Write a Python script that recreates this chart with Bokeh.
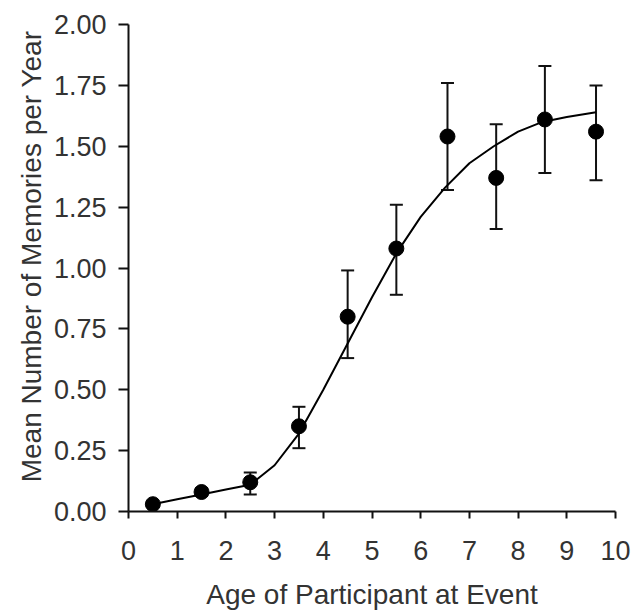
from bokeh.plotting import figure
from bokeh.models import ColumnDataSource, Whisker, TeeHead, FixedTicker, Range1d, CustomJSTickFormatter, Title
from bokeh.embed import file_html
from bokeh.resources import INLINE

# Data
ages = [0.5, 1.5, 2.5, 3.5, 4.5, 5.5, 6.55, 7.55, 8.55, 9.6]
means = [0.03, 0.08, 0.12, 0.35, 0.80, 1.08, 1.54, 1.37, 1.61, 1.56]
upper = [0.04, 0.095, 0.16, 0.43, 0.99, 1.26, 1.76, 1.59, 1.83, 1.75]
lower = [0.02, 0.065, 0.07, 0.26, 0.63, 0.89, 1.32, 1.16, 1.39, 1.36]

fit_x = [0.5, 1.0, 1.5, 2.0, 2.5, 3.0, 3.5, 4.0, 4.5, 5.0, 5.5, 6.0, 6.5, 7.0, 7.5, 8.0, 8.5, 9.0, 9.6]
fit_y = [0.03, 0.05, 0.07, 0.09, 0.11, 0.19, 0.32, 0.50, 0.69, 0.88, 1.06, 1.21, 1.33, 1.43, 1.50, 1.56, 1.60, 1.62, 1.64]

x_ticks = [0, 1, 2, 3, 4, 5, 6, 7, 8, 9, 10]
y_ticks = [0.0, 0.25, 0.5, 0.75, 1.0, 1.25, 1.5, 1.75, 2.0]

x_title = "Age of Participant at Event"
y_title = "Mean Number of Memories per Year"

FONT = "Liberation Sans"
TXT = "#333333"

p = figure(width=632, height=612, output_backend="svg", toolbar_location=None,
           x_range=Range1d(0, 10), y_range=Range1d(0, 2),
           min_border_left=128, min_border_right=17, min_border_top=24, min_border_bottom=99)
p.outline_line_color = None
p.xgrid.visible = False
p.ygrid.visible = False
p.background_fill_color = "white"

src = ColumnDataSource(dict(x=ages, y=means, up=upper, lo=lower))
fit = ColumnDataSource(dict(x=fit_x, y=fit_y))

p.line("x", "y", source=fit, line_color="black", line_width=2)
w = Whisker(source=src, base="x", upper="up", lower="lo", line_color="#111111", line_width=2,
            upper_head=TeeHead(size=13, line_width=2, line_color="#111111"),
            lower_head=TeeHead(size=13, line_width=2, line_color="#111111"))
p.add_layout(w)
p.scatter("x", "y", source=src, size=15, color="black")

for ax in (p.xaxis[0], p.yaxis[0]):
    ax.axis_line_width = 2
    ax.axis_line_color = "#111111"
    ax.major_tick_line_width = 2
    ax.major_tick_line_color = "#111111"
    ax.minor_tick_line_color = None
    ax.major_tick_in = 0
    ax.major_label_text_font = FONT
    ax.major_label_text_font_size = "27px"
    ax.major_label_text_color = TXT
    ax.axis_label_text_font = FONT
    ax.axis_label_text_font_size = "28px"
    ax.axis_label_text_font_style = "normal"
    ax.axis_label_text_color = TXT

p.xaxis.ticker = FixedTicker(ticks=x_ticks)
p.yaxis.ticker = FixedTicker(ticks=y_ticks)
p.yaxis.formatter = CustomJSTickFormatter(code="return tick.toFixed(2);")
p.xaxis.major_tick_out = 7
p.yaxis.major_tick_out = 10
p.xaxis.major_label_standoff = 22
p.yaxis.major_label_standoff = 12
p.xaxis.axis_label = x_title
p.xaxis.axis_label_standoff = 16

# y-axis title as a left-side title, aligned near the top as in the reference
ytitle = Title(text=y_title, align="right", offset=6, standoff=8,
               text_font=FONT, text_font_size="28px", text_font_style="normal",
               text_color=TXT)
p.add_layout(ytitle, "left")

open("out.html", "w").write(file_html(p, INLINE))
